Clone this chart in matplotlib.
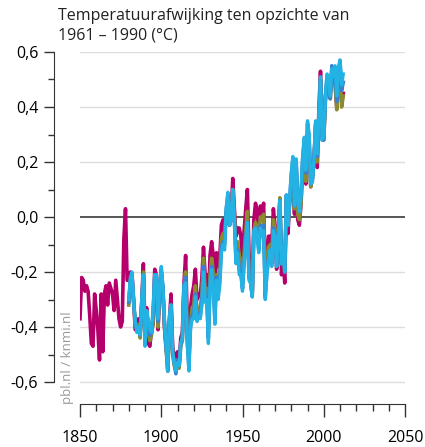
import numpy as np
import matplotlib
matplotlib.use("Agg")
import matplotlib.pyplot as plt
from matplotlib.ticker import MultipleLocator, FuncFormatter

# =============================
# DATA (afwijking t.o.v. 1961-1990, graden C)
# =============================
jaren_had = list(range(1850, 2013))
hadcrut = [
    -0.37, -0.22, -0.23, -0.27, -0.25, -0.27, -0.36, -0.46, -0.47, -0.28,
    -0.34, -0.41, -0.52, -0.28, -0.49, -0.28, -0.25, -0.32, -0.24, -0.26,
    -0.28, -0.34, -0.23, -0.30, -0.37, -0.40, -0.38, -0.08, 0.03, -0.23,
    -0.23, -0.20, -0.21, -0.30, -0.41, -0.39, -0.37, -0.42, -0.31, -0.17,
    -0.42, -0.33, -0.46, -0.47, -0.41, -0.39, -0.19, -0.21, -0.41, -0.29,
    -0.20, -0.26, -0.40, -0.48, -0.52, -0.38, -0.28, -0.47, -0.51, -0.52,
    -0.49, -0.54, -0.44, -0.42, -0.24, -0.14, -0.38, -0.47, -0.33, -0.28,
    -0.25, -0.19, -0.30, -0.28, -0.29, -0.22, -0.11, -0.21, -0.21, -0.35,
    -0.14, -0.09, -0.14, -0.27, -0.13, -0.18, -0.15, -0.03, -0.01, -0.05,
    0.01, 0.02, -0.03, 0.00, 0.14, 0.03, -0.07, -0.04, -0.04, -0.07,
    -0.17, -0.05, 0.03, 0.10, -0.13, -0.19, -0.27, -0.01, 0.05, 0.02,
    -0.05, 0.04, 0.01, 0.05, -0.22, -0.14, -0.07, -0.07, -0.11, 0.03,
    -0.03, -0.19, -0.07, 0.06, -0.21, -0.15, -0.24, 0.05, -0.06, 0.06,
    0.09, 0.14, 0.01, 0.19, -0.01, -0.03, 0.05, 0.19, 0.20, 0.12,
    0.30, 0.25, 0.11, 0.15, 0.21, 0.33, 0.18, 0.39, 0.53, 0.31,
    0.29, 0.44, 0.49, 0.50, 0.45, 0.54, 0.50, 0.49, 0.40, 0.50,
    0.55, 0.42, 0.45,
]

jaren = list(range(1880, 2013))
noaa = [
    -0.32, -0.24, -0.23, -0.31, -0.39, -0.40, -0.39, -0.44, -0.32, -0.20,
    -0.45, -0.37, -0.42, -0.45, -0.43, -0.38, -0.22, -0.22, -0.40, -0.28,
    -0.21, -0.27, -0.40, -0.48, -0.56, -0.40, -0.32, -0.50, -0.54, -0.56,
    -0.52, -0.55, -0.47, -0.45, -0.26, -0.20, -0.43, -0.51, -0.39, -0.33,
    -0.32, -0.25, -0.35, -0.33, -0.33, -0.28, -0.15, -0.27, -0.26, -0.41,
    -0.21, -0.15, -0.20, -0.34, -0.21, -0.25, -0.21, -0.08, -0.06, -0.07,
    0.02, 0.05, -0.02, 0.00, 0.10, 0.01, -0.13, -0.09, -0.14, -0.16,
    -0.24, -0.13, -0.05, 0.02, -0.20, -0.23, -0.28, -0.05, -0.02, -0.04,
    -0.08, 0.00, -0.01, 0.01, -0.25, -0.18, -0.11, -0.10, -0.14, -0.01,
    -0.05, -0.16, -0.06, 0.07, -0.17, -0.13, -0.20, 0.06, -0.03, 0.05,
    0.10, 0.14, 0.03, 0.17, 0.01, -0.01, 0.05, 0.18, 0.21, 0.13,
    0.29, 0.26, 0.11, 0.14, 0.20, 0.31, 0.20, 0.37, 0.50, 0.29,
    0.28, 0.42, 0.47, 0.48, 0.43, 0.51, 0.48, 0.48, 0.39, 0.48,
    0.53, 0.40, 0.44,
]
blauw = [
    -0.31, -0.23, -0.21, -0.31, -0.38, -0.41, -0.40, -0.43, -0.31, -0.21,
    -0.46, -0.35, -0.39, -0.43, -0.42, -0.35, -0.21, -0.21, -0.38, -0.27,
    -0.19, -0.26, -0.39, -0.47, -0.56, -0.37, -0.32, -0.49, -0.53, -0.57,
    -0.52, -0.54, -0.46, -0.44, -0.25, -0.22, -0.45, -0.54, -0.40, -0.36,
    -0.35, -0.28, -0.37, -0.35, -0.36, -0.31, -0.18, -0.30, -0.29, -0.44,
    -0.24, -0.18, -0.24, -0.37, -0.22, -0.28, -0.23, -0.11, -0.09, -0.10,
    0.03, 0.08, -0.03, -0.01, 0.09, -0.01, -0.16, -0.12, -0.19, -0.20,
    -0.26, -0.16, -0.08, -0.02, -0.22, -0.24, -0.29, -0.05, -0.04, -0.06,
    -0.12, -0.03, -0.06, -0.03, -0.29, -0.20, -0.15, -0.12, -0.17, -0.04,
    -0.06, -0.18, -0.08, 0.06, -0.17, -0.11, -0.20, 0.08, -0.03, 0.06,
    0.15, 0.21, 0.04, 0.21, 0.06, 0.02, 0.08, 0.21, 0.28, 0.16,
    0.34, 0.29, 0.12, 0.13, 0.21, 0.34, 0.22, 0.35, 0.50, 0.28,
    0.28, 0.43, 0.51, 0.50, 0.43, 0.55, 0.49, 0.53, 0.42, 0.52,
    0.57, 0.46, 0.49,
]
giss = [
    -0.30, -0.22, -0.20, -0.31, -0.38, -0.42, -0.40, -0.43, -0.30, -0.21,
    -0.47, -0.34, -0.37, -0.41, -0.42, -0.33, -0.21, -0.21, -0.37, -0.27,
    -0.18, -0.25, -0.38, -0.47, -0.56, -0.36, -0.32, -0.49, -0.53, -0.56,
    -0.53, -0.54, -0.46, -0.44, -0.25, -0.24, -0.46, -0.56, -0.40, -0.37,
    -0.37, -0.29, -0.38, -0.36, -0.37, -0.32, -0.20, -0.31, -0.30, -0.46,
    -0.26, -0.19, -0.26, -0.39, -0.23, -0.30, -0.25, -0.13, -0.10, -0.12,
    0.03, 0.09, -0.03, -0.01, 0.10, -0.01, -0.17, -0.13, -0.21, -0.21,
    -0.27, -0.17, -0.09, -0.02, -0.23, -0.24, -0.29, -0.05, -0.04, -0.07,
    -0.13, -0.04, -0.07, -0.05, -0.30, -0.21, -0.16, -0.12, -0.18, -0.05,
    -0.07, -0.18, -0.09, 0.06, -0.17, -0.11, -0.20, 0.08, -0.03, 0.06,
    0.16, 0.22, 0.04, 0.21, 0.06, 0.02, 0.08, 0.22, 0.29, 0.17,
    0.35, 0.30, 0.12, 0.13, 0.21, 0.35, 0.23, 0.36, 0.51, 0.28,
    0.29, 0.44, 0.52, 0.51, 0.44, 0.54, 0.51, 0.55, 0.44, 0.54,
    0.57, 0.48, 0.52,
]

y_ticks = [-0.6, -0.4, -0.2, 0.0, 0.2, 0.4, 0.6]
x_ticks = [1850, 1900, 1950, 2000, 2050]

plt.rcParams["font.family"] = ["Open Sans", "DejaVu Sans"]

fig = plt.figure(figsize=(4.25, 4.47), dpi=100)
ax = fig.add_axes([80 / 425, 43 / 447, 325 / 425, 352 / 447])

# rasterlijnen
for y in y_ticks:
    if y != 0:
        ax.axhline(y, color="#dcdcdc", lw=1.0, zorder=0)
ax.axhline(0, color="#555555", lw=1.4, zorder=1)

ax.plot(jaren_had, hadcrut, color="#b5006b", lw=2.6, zorder=2)
ax.plot(jaren, noaa, color="#8c8a30", lw=2.6, zorder=3)
ax.plot(jaren, blauw, color="#3a80d0", lw=2.6, zorder=4)
ax.plot(jaren, giss, color="#22b2e3", lw=2.4, zorder=5)

ax.set_xlim(1850, 2050)
ax.set_ylim(-0.68, 0.6)

for s in ["top", "right"]:
    ax.spines[s].set_visible(False)
ax.spines["left"].set_position(("outward", 19))
ax.spines["left"].set_bounds(-0.6, 0.6)
ax.spines["left"].set_color("#333333")
ax.spines["bottom"].set_color("#333333")

ax.set_yticks(y_ticks)
ax.yaxis.set_minor_locator(MultipleLocator(0.1))
ax.set_xticks(x_ticks)
ax.xaxis.set_minor_locator(MultipleLocator(10))
ax.yaxis.set_major_formatter(FuncFormatter(lambda v, p: f"{v:.1f}".replace(".", ",").replace("-0,0", "0,0")))
ax.tick_params(axis="y", which="major", length=7, width=1, color="#333333", labelsize=11.5, pad=4)
ax.tick_params(axis="y", which="minor", length=4, width=1, color="#333333")
ax.tick_params(axis="x", which="major", length=9, width=1, color="#333333", labelsize=11.5, pad=10)
ax.tick_params(axis="x", which="minor", length=5, width=1, color="#333333")

fig.text(58 / 425, 1 - 8 / 447, "Temperatuurafwijking ten opzichte van\n1961 \u2013 1990 (\u00b0C)",
         ha="left", va="top", fontsize=11.5, color="#222222", linespacing=1.25)
fig.text(68 / 425, 43 / 447, "pbl.nl / knmi.nl", rotation=90, ha="center", va="bottom",
         fontsize=9.5, color="#9a9a9a")

fig.savefig("out.png", dpi=100)
